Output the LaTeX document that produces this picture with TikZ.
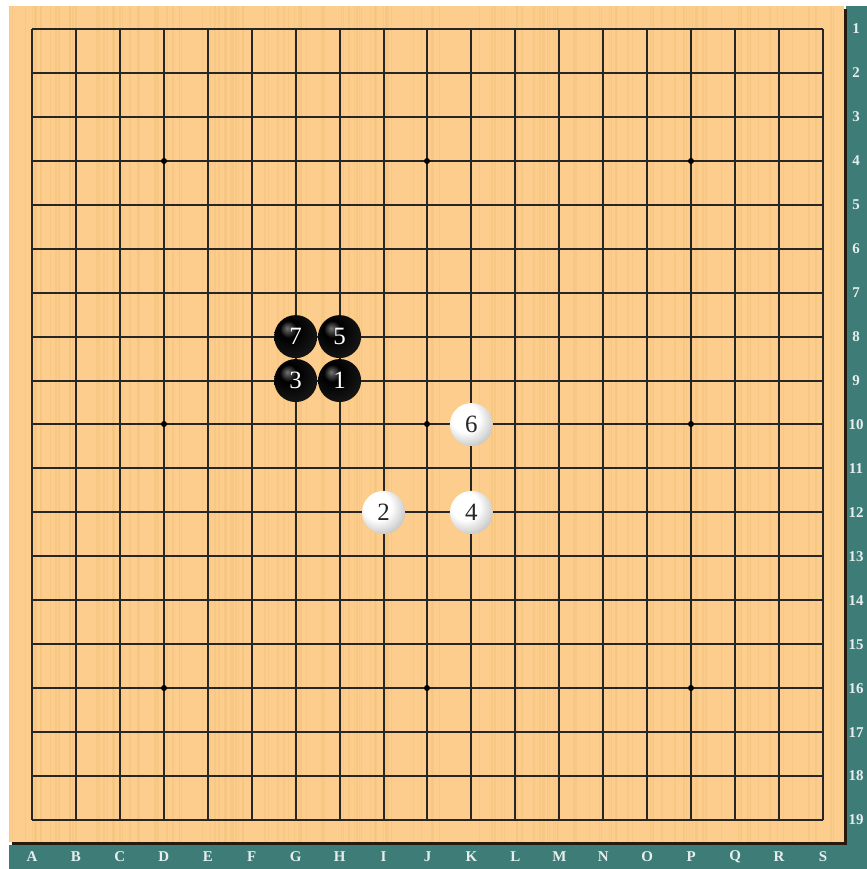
\documentclass[tikz,border=0pt]{standalone}
\usepackage{fontspec}
\setmainfont{Liberation Serif}
\definecolor{wood}{HTML}{FCCD8C}
\definecolor{woodline}{HTML}{F4C37F}
\definecolor{teal}{HTML}{3E7C78}
\definecolor{labelc}{HTML}{E6EFEE}
\pgfdeclareradialshading{wstone}{\pgfpoint{-9bp}{9bp}}{color(0bp)=(white); color(16bp)=(white); color(36bp)=(black!28); color(56bp)=(black!55); color(70bp)=(black!55)}
\pgfdeclareradialshading{bstone}{\pgfpoint{-10bp}{10bp}}{color(0bp)=(black!55); color(10bp)=(black!35!black); color(30bp)=(black!92); color(50bp)=(black); color(70bp)=(black)}
\tikzset{
  gridline/.style={line width=1.6bp, black!85},
  starpt/.style={circle, fill=black, inner sep=0pt, minimum size=6bp},
  blackstone/.style={circle, shading=bstone, minimum size=43bp, inner sep=0pt, text=white, font=\fontsize{25}{25}\selectfont},
  whitestone/.style={circle, shading=wstone, minimum size=43bp, inner sep=0pt, text=black!85, font=\fontsize{25}{25}\selectfont},
  coordlabel/.style={text=labelc, font=\bfseries\fontsize{15}{15}\selectfont, inner sep=0pt}
}
\begin{document}
\begin{tikzpicture}[x=1bp,y=-1bp]
\useasboundingbox (0,0) rectangle (867,869);
\fill[white] (0,0) rectangle (867,869);
% side bars
\fill[teal] (846,6) rectangle (867,869);
\fill[teal] (9,845) rectangle (867,869);
% shadow
\fill[black!80!brown] (12,845) rectangle (847,842);
\fill[black!80!brown] (844,9) rectangle (847,845);
% board
\fill[wood] (9,6) rectangle (844,842);
\pgfmathsetseed{7}
\foreach \i in {1,...,140}{
  \pgfmathsetmacro{\xx}{9+835*rnd}
  \pgfmathsetmacro{\ww}{0.6+1.6*rnd}
  \draw[woodline, line width=\ww bp, opacity=0.6] (\xx,6) -- (\xx,842);
}
% grid
\foreach \i in {0,...,18}{
  \pgfmathsetmacro{\p}{round(32+\i*43.944)}
  \draw[gridline] (\p,29) -- (\p,820);
  \pgfmathsetmacro{\q}{round(29+\i*43.944)}
  \draw[gridline] (32,\q) -- (823,\q);
}
% star points
\foreach \a in {3,9,15}{
  \foreach \b in {3,9,15}{
    \node[starpt] (s\a-\b) at ({round(32+\a*43.944)},{round(29+\b*43.944)}) {};
  }
}
% row labels
\foreach \r in {1,...,19}{
  \node[coordlabel] (row\r) at (856,{29+(\r-1)*43.944}) {\r};
}
% column labels
\foreach \c [count=\k from 0] in {A,B,C,D,E,F,G,H,I,J,K,L,M,N,O,P,Q,R,S}{
  \node[coordlabel] (col\c) at ({32+\k*43.944},857) {\c};
}
% stones
\node[blackstone] (m1) at ({32+7*43.944},{29+8*43.944}) {1};
\node[whitestone] (m2) at ({32+8*43.944},{29+11*43.944}) {2};
\node[blackstone] (m3) at ({32+6*43.944},{29+8*43.944}) {3};
\node[whitestone] (m4) at ({32+10*43.944},{29+11*43.944}) {4};
\node[blackstone] (m5) at ({32+7*43.944},{29+7*43.944}) {5};
\node[whitestone] (m6) at ({32+10*43.944},{29+9*43.944}) {6};
\node[blackstone] (m7) at ({32+6*43.944},{29+7*43.944}) {7};
\end{tikzpicture}
\end{document}
